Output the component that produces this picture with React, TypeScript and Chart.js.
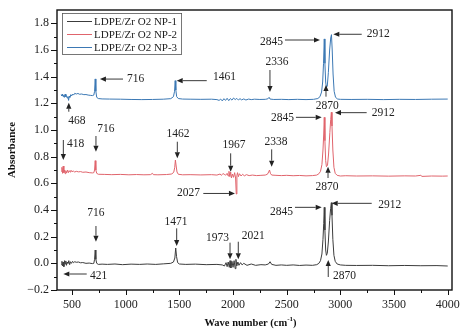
import React, { useEffect, useRef } from 'react';
import { Chart, registerables } from 'chart.js';

Chart.register(...registerables);

const X_MIN = 360;
const X_MAX = 4040;
const Y_MIN = -0.2;
const Y_MAX = 1.9;
const X_TICKS = [500, 1000, 1500, 2000, 2500, 3000, 3500, 4000];
const X_MINOR = [750, 1250, 1750, 2250, 2750, 3250, 3750];
const Y_TICKS = [-0.2, 0, 0.2, 0.4, 0.6, 0.8, 1.0, 1.2, 1.4, 1.6, 1.8];
const Y_MINOR = [-0.1, 0.1, 0.3, 0.5, 0.7, 0.9, 1.1, 1.3, 1.5, 1.7];

const SERIES_LABELS = ['LDPE/Zr O2 NP-1', 'LDPE/Zr O2 NP-2', 'LDPE/Zr O2 NP-3'];
const SERIES_COLORS = ['#3c3c3c', '#e0646c', '#3b78b4'];

// [wave number, absorbance]
const NP1: number[][] = [
  [400,-0.01],[406,0.015],[412,-0.02],[418,0.01],[424,-0.025],[430,0.02],[436,-0.005],[442,0.018],[448,-0.015],[455,0.01],
  [462,0.0],[470,0.02],[478,-0.01],[486,0.012],[495,0.0],[505,0.015],[515,0.005],[525,0.012],[540,0.008],[560,0.01],
  [580,0.004],[600,0.006],[630,0.0],[660,0.002],[690,-0.002],[703,0.0],[710,0.03],[716,0.1],[722,0.03],[730,0.0],
  [745,-0.008],[780,-0.006],[830,-0.008],[900,-0.005],[970,-0.01],[1050,-0.006],[1130,-0.008],[1200,-0.005],[1280,-0.008],[1350,-0.004],
  [1420,0.0],[1445,0.01],[1458,0.04],[1466,0.115],[1474,0.05],[1484,0.005],[1500,-0.005],[1560,-0.008],[1650,-0.006],[1750,-0.01],
  [1850,-0.008],[1900,-0.012],[1920,-0.02],[1935,0.005],[1945,-0.025],[1955,0.01],[1965,-0.03],[1972,0.02],[1980,-0.035],[1990,0.015],
  [2000,-0.03],[2010,0.02],[2020,-0.04],[2027,0.03],[2035,-0.02],[2045,0.01],[2055,-0.015],[2070,0.005],[2085,-0.012],[2100,0.0],
  [2130,-0.015],[2170,-0.005],[2210,-0.015],[2260,-0.01],[2300,-0.012],[2330,-0.005],[2345,0.012],[2360,-0.008],[2400,-0.015],[2450,-0.012],
  [2500,-0.015],[2560,-0.012],[2620,-0.016],[2680,-0.013],[2740,-0.015],[2780,-0.01],[2800,0.0],[2815,0.02],[2828,0.07],[2838,0.18],
  [2845,0.3],[2850,0.42],[2856,0.25],[2863,0.1],[2870,0.06],[2878,0.075],[2888,0.16],[2900,0.32],[2909,0.41],[2916,0.455],
  [2922,0.36],[2930,0.18],[2940,0.06],[2952,0.015],[2970,-0.005],[3000,-0.012],[3050,-0.015],[3150,-0.016],[3300,-0.015],[3450,-0.018],
  [3600,-0.016],[3750,-0.018],[3900,-0.017],[4000,-0.02],
];

const NP2: number[][] = [
  [400,0.69],[406,0.72],[412,0.675],[418,0.73],[424,0.68],[430,0.7],[436,0.672],[442,0.695],[450,0.678],[458,0.7],
  [466,0.68],[474,0.695],[482,0.685],[490,0.698],[500,0.688],[512,0.692],[525,0.685],[540,0.69],[560,0.686],[580,0.688],
  [600,0.683],[630,0.685],[660,0.68],[690,0.678],[703,0.68],[710,0.7],[716,0.77],[722,0.7],[730,0.675],[745,0.668],
  [800,0.667],[870,0.665],[950,0.667],[1030,0.664],[1100,0.666],[1170,0.664],[1230,0.665],[1250,0.675],[1258,0.665],[1300,0.664],
  [1380,0.666],[1430,0.67],[1448,0.685],[1457,0.72],[1463,0.775],[1470,0.73],[1478,0.685],[1490,0.668],[1530,0.664],[1600,0.665],
  [1700,0.663],[1800,0.665],[1850,0.662],[1880,0.67],[1890,0.66],[1900,0.668],[1915,0.672],[1930,0.66],[1945,0.675],[1955,0.655],
  [1962,0.69],[1970,0.65],[1978,0.685],[1985,0.64],[1995,0.67],[2005,0.645],[2015,0.68],[2024,0.64],[2030,0.52],[2036,0.66],
  [2042,0.68],[2050,0.65],[2060,0.672],[2075,0.655],[2090,0.668],[2105,0.656],[2125,0.665],[2150,0.658],[2180,0.662],[2220,0.658],
  [2260,0.66],[2300,0.662],[2320,0.668],[2332,0.685],[2340,0.7],[2348,0.675],[2360,0.662],[2400,0.66],[2450,0.658],[2500,0.66],
  [2560,0.657],[2620,0.659],[2680,0.656],[2740,0.658],[2780,0.662],[2800,0.672],[2815,0.69],[2828,0.74],[2838,0.85],[2845,0.97],
  [2850,1.095],[2856,0.92],[2863,0.77],[2870,0.725],[2880,0.735],[2890,0.82],[2902,0.98],[2910,1.08],[2916,1.133],[2922,1.03],
  [2930,0.85],[2940,0.72],[2952,0.675],[2970,0.66],[3000,0.655],[3050,0.657],[3150,0.655],[3300,0.656],[3450,0.654],[3600,0.656],
  [3700,0.655],[3750,0.66],[3760,0.652],[3850,0.655],[3950,0.654],[4000,0.655],
];

const NP3: number[][] = [
  [400,1.265],[406,1.255],[412,1.27],[418,1.25],[424,1.262],[430,1.245],[436,1.27],[442,1.25],[448,1.258],[455,1.24],
  [462,1.25],[468,1.222],[474,1.255],[480,1.245],[488,1.265],[496,1.255],[505,1.27],[515,1.262],[525,1.275],[540,1.27],
  [555,1.274],[570,1.268],[590,1.27],[610,1.265],[630,1.266],[650,1.262],[670,1.26],[690,1.258],[703,1.262],[710,1.29],
  [716,1.383],[722,1.29],[730,1.245],[745,1.236],[780,1.233],[850,1.232],[950,1.231],[1050,1.229],[1150,1.228],[1250,1.229],
  [1350,1.231],[1420,1.235],[1445,1.25],[1455,1.29],[1461,1.37],[1467,1.3],[1475,1.25],[1490,1.236],[1530,1.232],[1600,1.231],
  [1700,1.23],[1800,1.231],[1850,1.228],[1870,1.222],[1885,1.232],[1900,1.218],[1915,1.235],[1930,1.222],[1945,1.238],[1960,1.22],
  [1975,1.236],[1990,1.224],[2005,1.24],[2020,1.228],[2035,1.237],[2050,1.225],[2065,1.235],[2080,1.226],[2100,1.233],[2120,1.225],
  [2145,1.232],[2170,1.228],[2200,1.231],[2250,1.229],[2300,1.23],[2325,1.234],[2336,1.245],[2345,1.232],[2380,1.229],[2450,1.23],
  [2520,1.228],[2600,1.23],[2680,1.228],[2750,1.23],[2790,1.236],[2810,1.25],[2825,1.285],[2835,1.36],[2843,1.5],[2850,1.683],
  [2856,1.5],[2863,1.36],[2870,1.32],[2878,1.33],[2888,1.43],[2900,1.6],[2910,1.69],[2917,1.715],[2924,1.6],[2932,1.42],
  [2942,1.29],[2955,1.245],[2975,1.232],[3000,1.23],[3100,1.229],[3250,1.23],[3400,1.228],[3550,1.23],[3700,1.229],[3850,1.231],
  [4000,1.232],
];

const SERIES = [NP1, NP2, NP3];

// peak annotations: label, arrow tail, arrow tip, text anchor (data coords), text alignment
type Ann = { label: string; tail: number[]; tip: number[]; text: number[]; align: CanvasTextAlign };
const ANNOTATIONS: Ann[] = [
  { label: '716', tail: [975, 1.382], tip: [760, 1.382], text: [1012, 1.382], align: 'left' },
  { label: '1461', tail: [1755, 1.37], tip: [1475, 1.37], text: [1813, 1.397], align: 'left' },
  { label: '468', tail: [470, 1.137], tip: [470, 1.205], text: [546, 1.07], align: 'center' },
  { label: '2336', tail: [2344, 1.45], tip: [2344, 1.285], text: [2410, 1.51], align: 'center' },
  { label: '2845', tail: [2484, 1.675], tip: [2810, 1.675], text: [2465, 1.662], align: 'right' },
  { label: '2912', tail: [3199, 1.718], tip: [2934, 1.718], text: [3245, 1.718], align: 'left' },
  { label: '2870', tail: [2866, 1.25], tip: [2866, 1.3375], text: [2878, 1.18], align: 'center' },
  { label: '418', tail: [419, 0.925], tip: [419, 0.775], text: [453, 0.895], align: 'left' },
  { label: '716', tail: [723, 0.955], tip: [723, 0.837], text: [816, 1.0075], align: 'center' },
  { label: '1462', tail: [1481, 0.912], tip: [1481, 0.7875], text: [1487, 0.97], align: 'center' },
  { label: '1967', tail: [1978, 0.825], tip: [1978, 0.6875], text: [2009, 0.884], align: 'center' },
  { label: '2338', tail: [2360, 0.855], tip: [2360, 0.725], text: [2400, 0.912], align: 'center' },
  { label: '2027', tail: [1723, 0.524], tip: [2018, 0.524], text: [1692, 0.524], align: 'right' },
  { label: '2845', tail: [2586, 1.095], tip: [2826, 1.095], text: [2568, 1.0875], align: 'right' },
  { label: '2912', tail: [3245, 1.13], tip: [2950, 1.13], text: [3292, 1.13], align: 'left' },
  { label: '2870', tail: [2885, 0.64], tip: [2885, 0.725], text: [2875, 0.57], align: 'center' },
  { label: '716', tail: [723, 0.28], tip: [723, 0.1625], text: [723, 0.375], align: 'center' },
  { label: '1471', tail: [1475, 0.2625], tip: [1475, 0.13], text: [1469, 0.31], align: 'center' },
  { label: '1973', tail: [1972, 0.155], tip: [1972, 0.03], text: [1855, 0.188], align: 'center' },
  { label: '2021', tail: [2049, 0.162], tip: [2049, 0.03], text: [2081, 0.205], align: 'left' },
  { label: '421', tail: [637, -0.08], tip: [419, -0.08], text: [667, -0.095], align: 'left' },
  { label: '2845', tail: [2577, 0.42], tip: [2826, 0.42], text: [2559, 0.387], align: 'right' },
  { label: '2912', tail: [3292, 0.45], tip: [2919, 0.45], text: [3353, 0.4375], align: 'left' },
  { label: '2870', tail: [2887, -0.1025], tip: [2887, 0.025], text: [2931, -0.095], align: 'left' },
];

const FONT = '"Liberation Serif", "Times New Roman", serif';

const decorPlugin = {
  id: 'decor',
  afterDraw(chart: any) {
    const { ctx, chartArea, scales } = chart;
    const xs = scales.x;
    const ys = scales.y;
    const { left, right, top, bottom } = chartArea;
    ctx.save();

    // ticks
    ctx.strokeStyle = '#111';
    ctx.lineWidth = 1;
    ctx.beginPath();
    X_TICKS.forEach((v) => {
      const px = Math.round(xs.getPixelForValue(v)) + 0.5;
      ctx.moveTo(px, bottom);
      ctx.lineTo(px, bottom + 5);
    });
    X_MINOR.forEach((v) => {
      const px = Math.round(xs.getPixelForValue(v)) + 0.5;
      ctx.moveTo(px, bottom);
      ctx.lineTo(px, bottom + 3);
    });
    Y_TICKS.forEach((v) => {
      const py = Math.round(ys.getPixelForValue(v)) + 0.5;
      ctx.moveTo(left, py);
      ctx.lineTo(left - 6, py);
    });
    Y_MINOR.forEach((v) => {
      const py = Math.round(ys.getPixelForValue(v)) + 0.5;
      ctx.moveTo(left, py);
      ctx.lineTo(left - 3, py);
    });
    ctx.stroke();

    // frame
    ctx.lineWidth = 1.4;
    ctx.strokeStyle = '#111';
    ctx.strokeRect(left, top, right - left, bottom - top);

    // legend
    const lx = left + 5;
    const ly = top + 3;
    ctx.font = `11px ${FONT}`;
    let maxW = 0;
    SERIES_LABELS.forEach((l) => { maxW = Math.max(maxW, ctx.measureText(l).width); });
    ctx.lineWidth = 0.8;
    ctx.strokeStyle = '#555';
    ctx.strokeRect(lx + 0.5, ly + 0.5, 32 + maxW + 4, 41);
    SERIES_LABELS.forEach((l, i) => {
      const ry = ly + 8 + i * 13;
      ctx.strokeStyle = SERIES_COLORS[i];
      ctx.lineWidth = 1;
      ctx.beginPath();
      ctx.moveTo(lx + 5, ry + 0.5);
      ctx.lineTo(lx + 30, ry + 0.5);
      ctx.stroke();
      ctx.fillStyle = '#222';
      ctx.textAlign = 'left';
      ctx.textBaseline = 'middle';
      ctx.fillText(l, lx + 32, ry + 1);
    });

    // annotations
    ctx.font = `11.5px ${FONT}`;
    ctx.fillStyle = '#222';
    ctx.strokeStyle = '#222';
    ANNOTATIONS.forEach((a) => {
      const x1 = xs.getPixelForValue(a.tail[0]);
      const y1 = ys.getPixelForValue(a.tail[1]);
      const x2 = xs.getPixelForValue(a.tip[0]);
      const y2 = ys.getPixelForValue(a.tip[1]);
      const ang = Math.atan2(y2 - y1, x2 - x1);
      const hl = 6;
      const hw = 2.6;
      const bx = x2 - hl * Math.cos(ang);
      const by = y2 - hl * Math.sin(ang);
      ctx.lineWidth = 0.9;
      ctx.beginPath();
      ctx.moveTo(x1, y1);
      ctx.lineTo(bx, by);
      ctx.stroke();
      ctx.beginPath();
      ctx.moveTo(x2, y2);
      ctx.lineTo(bx + hw * Math.sin(ang), by - hw * Math.cos(ang));
      ctx.lineTo(bx - hw * Math.sin(ang), by + hw * Math.cos(ang));
      ctx.closePath();
      ctx.fill();
      ctx.textAlign = a.align;
      ctx.textBaseline = 'middle';
      ctx.fillText(a.label, xs.getPixelForValue(a.text[0]), ys.getPixelForValue(a.text[1]));
    });

    // axis titles
    ctx.fillStyle = '#111';
    ctx.font = `bold 11px ${FONT}`;
    ctx.save();
    ctx.translate(12, (top + bottom) / 2);
    ctx.rotate(-Math.PI / 2);
    ctx.textAlign = 'center';
    ctx.textBaseline = 'middle';
    ctx.fillText('Absorbance', 0, 0);
    ctx.restore();

    const part1 = 'Wave number (cm';
    const sup = '-1';
    const part3 = ')';
    ctx.font = `bold 10.5px ${FONT}`;
    const w1 = ctx.measureText(part1).width;
    const w3 = ctx.measureText(part3).width;
    ctx.font = `bold 7px ${FONT}`;
    const w2 = ctx.measureText(sup).width;
    const total = w1 + w2 + w3;
    const cx = (left + right) / 2 - 4;
    let sx = cx - total / 2;
    const ty = 323;
    ctx.textAlign = 'left';
    ctx.textBaseline = 'middle';
    ctx.font = `bold 10.5px ${FONT}`;
    ctx.fillText(part1, sx, ty);
    sx += w1;
    ctx.font = `bold 7px ${FONT}`;
    ctx.fillText(sup, sx, ty - 4);
    sx += w2;
    ctx.font = `bold 10.5px ${FONT}`;
    ctx.fillText(part3, sx, ty);

    ctx.restore();
  },
};

export default function App() {
  const ref = useRef<HTMLCanvasElement | null>(null);
  useEffect(() => {
    if (!ref.current) return;
    const chart = new Chart(ref.current, {
      type: 'line',
      data: {
        datasets: SERIES.map((s, i) => ({
          label: SERIES_LABELS[i],
          data: s.map((p) => ({ x: p[0], y: p[1] })),
          borderColor: SERIES_COLORS[i],
          borderWidth: 1,
          pointRadius: 0,
          tension: 0,
          fill: false,
        })),
      },
      options: {
        animation: false,
        responsive: false,
        maintainAspectRatio: false,
        layout: { padding: { top: 10, right: 13, left: 0, bottom: 0 } },
        plugins: { legend: { display: false }, tooltip: { enabled: false } },
        scales: {
          x: {
            type: 'linear',
            min: X_MIN,
            max: X_MAX,
            afterBuildTicks: (s: any) => { s.ticks = X_TICKS.map((v) => ({ value: v })); },
            afterFit: (s: any) => { s.height = 46; },
            grid: { display: true, drawOnChartArea: false, drawTicks: true, tickLength: 5, color: 'rgba(0,0,0,0)' },
            border: { display: false },
            ticks: {
              padding: 3,
              maxRotation: 0,
              autoSkip: false,
              color: '#222',
              font: { family: FONT, size: 12 },
              callback: (v: any) => String(v),
            },
          },
          y: {
            type: 'linear',
            min: Y_MIN,
            max: Y_MAX,
            afterBuildTicks: (s: any) => { s.ticks = Y_TICKS.map((v) => ({ value: v })); },
            afterFit: (s: any) => { s.width = 57; },
            grid: { display: true, drawOnChartArea: false, drawTicks: true, tickLength: 6, color: 'rgba(0,0,0,0)' },
            border: { display: false },
            ticks: {
              padding: 2,
              autoSkip: false,
              color: '#222',
              font: { family: FONT, size: 12 },
              callback: (v: any) => {
                const n = Number(v);
                const s = Math.abs(n).toFixed(1);
                return n < -1e-9 ? '\u2212' + s : s;
              },
            },
          },
        },
      },
      plugins: [decorPlugin],
    });
    return () => chart.destroy();
  }, []);
  return (
    <div style={{ position: 'absolute', left: 0, top: 0, width: 465, height: 336, background: '#fff' }}>
      <canvas ref={ref} width={465} height={336} style={{ width: 465, height: 336 }} />
    </div>
  );
}
